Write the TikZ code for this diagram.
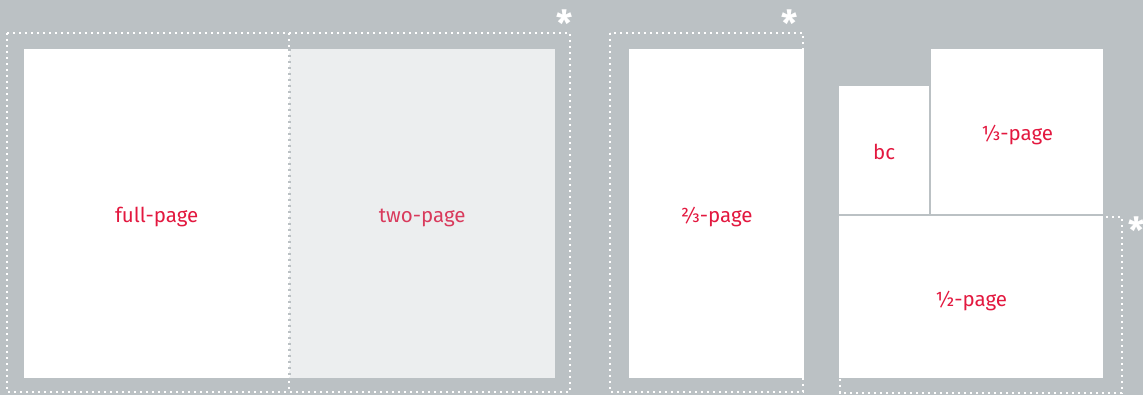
\documentclass[tikz,border=0pt]{standalone}
\usepackage{fontspec}
\setmainfont{Fira Sans}
\usepackage{xcolor}
\usepackage{tikz}
\usetikzlibrary{positioning}
\definecolor{cBg}{HTML}{BBC1C4}
\definecolor{cSpread}{HTML}{ECEEEF}
\definecolor{cLabel}{HTML}{E3183F}
\definecolor{cLabelSoft}{HTML}{D93A5C}
\tikzset{
  page/.style    = {fill=white, draw=none, inner sep=0pt, anchor=north west,
                    font=\fontsize{20.5}{24}\selectfont, text=cLabel,
                    text height=18pt, text depth=0pt},
  spread/.style  = {page, fill=cSpread, text=cLabelSoft},
  trim/.style    = {draw=white, line width=2.2pt, dash pattern=on 2.2pt off 3.8pt},
  fold/.style    = {trim, draw=cBg},
  bleed/.style   = {text=white, font=\fontsize{36}{38}\selectfont\bfseries,
                    inner sep=0pt, anchor=base},
}
\begin{document}
\begin{tikzpicture}[x=1pt, y=-1pt]
  \fill[cBg] (0,0) rectangle (1143,395);
  \useasboundingbox (0,0) rectangle (1143,395);
  % bleed outlines
  \draw[trim] (7,33) rectangle (570,392);
  \draw[trim] (610,33) rectangle (803,392);
  \draw[trim] (840,217) rectangle (1122,393);
  % pages
  \node[page, minimum width=265pt, minimum height=329pt] (full) at (24,49) {full-page};
  \node[spread, minimum width=266pt, minimum height=329pt] (two) at (289,49) {two-page};
  \node[page, minimum width=175pt, minimum height=329pt] (twothird) at (629,49) {⅔-page};
  \node[page, minimum width=90pt, minimum height=128pt] (bc) at (839,86) {bc};
  \node[page, minimum width=172pt, minimum height=165pt] (third) at (931,49) {⅓-page};
  \node[page, minimum width=264pt, minimum height=162pt] (half) at (839,216) {½-page};
  \draw[trim] (289,33) -- (289,392);
  \draw[fold] (full.north east) -- (full.south east);
  % bleed marks
  \node[bleed] (markA) at (565,37) {*};
  \node[bleed] (markB) at (790,37) {*};
  \node[bleed] (markC) at (1137,244) {*};
\end{tikzpicture}
\end{document}
